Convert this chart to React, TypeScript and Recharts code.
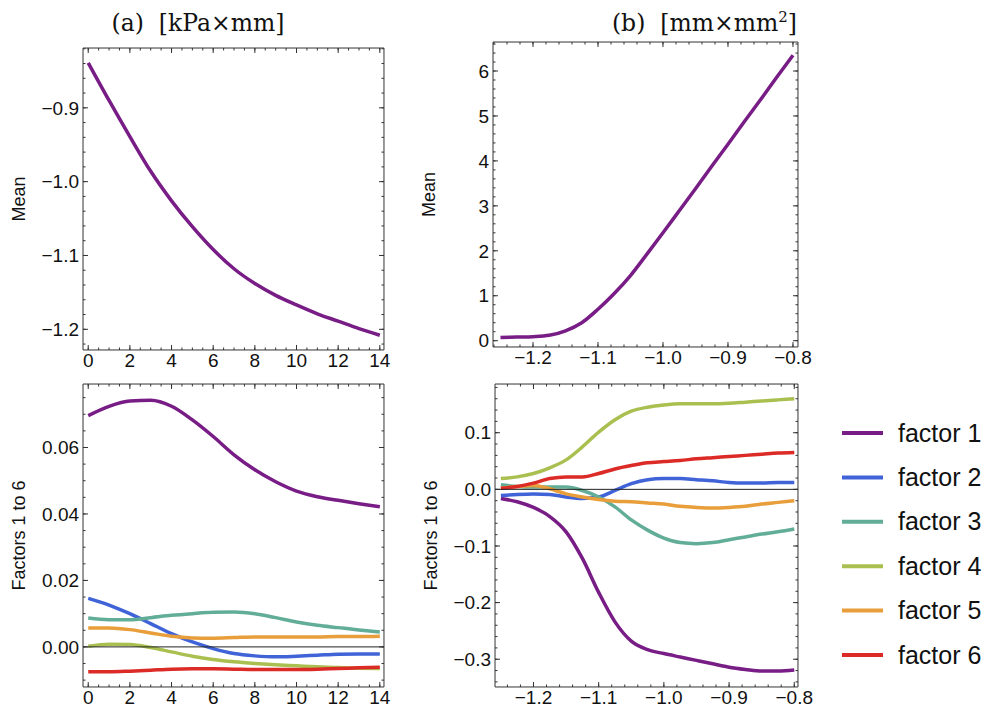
import React from 'react'
import { LineChart, Line, XAxis, YAxis, ReferenceLine } from 'recharts'

// panel (a): x runs 0..14
const tA = [0, 1, 2, 3, 4, 5, 6, 7, 8, 9, 10, 11, 12, 13, 14]
const meanA = [-0.839, -0.89, -0.939, -0.986, -1.026, -1.061, -1.092, -1.118, -1.138, -1.154, -1.167, -1.179, -1.189, -1.199, -1.208]
const aF1 = [0.0696, 0.0724, 0.074, 0.0742, 0.0724, 0.0683, 0.0633, 0.0578, 0.0533, 0.0497, 0.0469, 0.0452, 0.0441, 0.0431, 0.0422]
const aF2 = [0.0146, 0.0126, 0.01, 0.007, 0.004, 0.0015, -0.0005, -0.002, -0.0027, -0.003, -0.0028, -0.0025, -0.0022, -0.0021, -0.0021]
const aF3 = [0.0087, 0.0082, 0.0082, 0.0088, 0.0095, 0.01, 0.0104, 0.0105, 0.01, 0.0088, 0.0075, 0.0065, 0.0058, 0.0051, 0.0045]
const aF4 = [0.0002, 0.0008, 0.0007, -0.0002, -0.0015, -0.0028, -0.0038, -0.0045, -0.005, -0.0054, -0.0057, -0.006, -0.0062, -0.0064, -0.0065]
const aF5 = [0.0057, 0.0057, 0.0052, 0.0042, 0.0032, 0.0027, 0.0026, 0.0028, 0.003, 0.003, 0.003, 0.003, 0.0031, 0.0031, 0.0032]
const aF6 = [-0.0075, -0.0075, -0.0073, -0.007, -0.0067, -0.0066, -0.0066, -0.0067, -0.0068, -0.0068, -0.0068, -0.0067, -0.0065, -0.0063, -0.0061]

// panel (b): x runs -1.25..-0.8
const xB = [-1.25, -1.225, -1.2, -1.175, -1.15, -1.125, -1.1, -1.075, -1.05, -1.025, -1.0, -0.975, -0.95, -0.925, -0.9, -0.875, -0.85, -0.825, -0.8]
const meanB = [0.07, 0.08, 0.09, 0.12, 0.22, 0.4, 0.7, 1.05, 1.45, 1.92, 2.4, 2.89, 3.38, 3.88, 4.37, 4.87, 5.36, 5.86, 6.35]
const bF1 = [-0.016, -0.022, -0.032, -0.048, -0.075, -0.122, -0.182, -0.234, -0.268, -0.283, -0.29, -0.296, -0.302, -0.308, -0.314, -0.318, -0.321, -0.321, -0.319]
const bF2 = [-0.011, -0.009, -0.008, -0.009, -0.0135, -0.016, -0.0135, -0.002, 0.01, 0.017, 0.019, 0.019, 0.017, 0.015, 0.012, 0.011, 0.011, 0.012, 0.012]
const bF3 = [0.008, 0.005, 0.004, 0.004, 0.004, -0.002, -0.0135, -0.031, -0.054, -0.072, -0.086, -0.094, -0.096, -0.094, -0.089, -0.084, -0.079, -0.075, -0.07]
const bF4 = [0.019, 0.022, 0.028, 0.038, 0.052, 0.075, 0.101, 0.123, 0.138, 0.145, 0.149, 0.151, 0.151, 0.151, 0.152, 0.154, 0.156, 0.158, 0.16]
const bF5 = [0.002, 0.005, 0.007, 0.001, -0.008, -0.0135, -0.018, -0.021, -0.022, -0.024, -0.026, -0.03, -0.032, -0.033, -0.032, -0.03, -0.026, -0.023, -0.02]
const bF6 = [0.002, 0.005, 0.011, 0.019, 0.022, 0.022, 0.028, 0.036, 0.042, 0.047, 0.049, 0.051, 0.054, 0.056, 0.058, 0.06, 0.062, 0.064, 0.065]

const factorNames = ['factor 1', 'factor 2', 'factor 3', 'factor 4', 'factor 5', 'factor 6']
const factorKeys = ['f1', 'f2', 'f3', 'f4', 'f5', 'f6']
const factorColors = ['#781c86', '#4063d8', '#62ad97', '#a9c050', '#e89e3a', '#dc2a27']

// tick labels
const xTicksA = [0, 2, 4, 6, 8, 10, 12, 14]
const xTicksB = [-1.2, -1.1, -1.0, -0.9, -0.8]
const yTicksMeanA = [-1.2, -1.1, -1.0, -0.9]
const yTicksMeanB = [0, 1, 2, 3, 4, 5, 6]
const yTicksFacA = [0, 0.02, 0.04, 0.06]
const yTicksFacB = [-0.3, -0.2, -0.1, 0, 0.1]

const FRAME = '#333'
const SANS = '"Liberation Sans", Arial, sans-serif'
const SERIF = '"DejaVu Serif", "Liberation Serif", serif'
// axes take (almost) no room, the chart margins place the frame
const AX = 0.01

const steps = (from: number, to: number, step: number, domain: number[]) => {
  const out: number[] = []
  const n = Math.round((to - from) / step)
  for (let i = 0; i <= n; i++) {
    const v = Math.round((from + i * step) * 1e6) / 1e6
    if (v >= domain[0] && v <= domain[1]) out.push(v)
  }
  return out
}

const fmt = (d: number) => (v: number) => {
  const s = Math.abs(v).toFixed(d)
  return v < -1e-9 ? '\u2212' + s : s
}

const dataMeanA = tA.map((x, i) => ({ x, m: meanA[i] }))
const dataMeanB = xB.map((x, i) => ({ x, m: meanB[i] }))
const dataFacA = tA.map((x, i) => ({ x, f1: aF1[i], f2: aF2[i], f3: aF3[i], f4: aF4[i], f5: aF5[i], f6: aF6[i] }))
const dataFacB = xB.map((x, i) => ({ x, f1: bF1[i], f2: bF2[i], f3: bF3[i], f4: bF4[i], f5: bF5[i], f6: bF6[i] }))

const tickText = (digits: number) => (props: any) => {
  const dy = props.verticalAnchor === 'start' ? '0.71em' : '0.355em'
  return (
    <text x={props.x} y={props.y} dy={dy} textAnchor={props.textAnchor} fontSize={19} fontFamily={SANS} fill="#111">
      {fmt(digits)(props.payload.value)}
    </text>
  )
}

const yLabel = (text: string) => (props: any) => {
  const vb = props.viewBox || {}
  const cx = vb.x - 58
  const cy = vb.y + vb.height / 2
  return (
    <text
      transform={`translate(${cx},${cy}) rotate(-90)`}
      textAnchor="middle"
      fontSize={18}
      fontFamily={SANS}
      fill="#111"
    >
      {text}
    </text>
  )
}

type PanelProps = {
  left: number
  top: number
  width: number
  height: number
  margin: { top: number; right: number; bottom: number; left: number }
  data: any[]
  keys: string[]
  colors: string[]
  xDomain: number[]
  yDomain: number[]
  xTicks: number[]
  yTicks: number[]
  xMinor: number[]
  yMinor: number[]
  xDigits: number
  yDigits: number
  label: string
  zero?: boolean
}

const Panel = (p: PanelProps) => {
  const none = () => ''
  return (
    <div style={{ position: 'absolute', left: p.left, top: p.top }}>
      <LineChart width={p.width} height={p.height} data={p.data} margin={p.margin}>
        <XAxis xAxisId="bm" type="number" dataKey="x" domain={p.xDomain} allowDataOverflow ticks={p.xMinor} interval={0}
          height={AX} tickSize={-2.5} axisLine={false} tickLine={{ stroke: FRAME }} tickFormatter={none} />
        <XAxis xAxisId="tm" orientation="top" type="number" dataKey="x" domain={p.xDomain} allowDataOverflow ticks={p.xMinor} interval={0}
          height={AX} tickSize={-2.5} axisLine={false} tickLine={{ stroke: FRAME }} tickFormatter={none} />
        <XAxis xAxisId="t" orientation="top" type="number" dataKey="x" domain={p.xDomain} allowDataOverflow ticks={p.xTicks} interval={0}
          height={AX} tickSize={-5} axisLine={{ stroke: FRAME }} tickLine={{ stroke: FRAME }} tickFormatter={none} />
        <XAxis xAxisId="b" type="number" dataKey="x" domain={p.xDomain} allowDataOverflow ticks={p.xTicks} interval={0}
          height={AX} tickSize={-5} tickMargin={9} axisLine={{ stroke: FRAME }} tickLine={{ stroke: FRAME }}
          tick={tickText(p.xDigits)} />
        <YAxis yAxisId="lm" type="number" domain={p.yDomain} allowDataOverflow ticks={p.yMinor} interval={0}
          width={AX} tickSize={-2.5} axisLine={false} tickLine={{ stroke: FRAME }} tickFormatter={none} />
        <YAxis yAxisId="rm" orientation="right" type="number" domain={p.yDomain} allowDataOverflow ticks={p.yMinor} interval={0}
          width={AX} tickSize={-2.5} axisLine={false} tickLine={{ stroke: FRAME }} tickFormatter={none} />
        <YAxis yAxisId="r" orientation="right" type="number" domain={p.yDomain} allowDataOverflow ticks={p.yTicks} interval={0}
          width={AX} tickSize={-5} axisLine={{ stroke: FRAME }} tickLine={{ stroke: FRAME }} tickFormatter={none} />
        <YAxis yAxisId="l" type="number" domain={p.yDomain} allowDataOverflow ticks={p.yTicks} interval={0}
          width={AX} tickSize={-5} tickMargin={9} axisLine={{ stroke: FRAME }} tickLine={{ stroke: FRAME }}
          tick={tickText(p.yDigits)} label={yLabel(p.label)} />
        {p.keys.map((k, i) => (
          <Line key={k} xAxisId="b" yAxisId="l" type="monotone" dataKey={k} stroke={p.colors[i]}
            strokeWidth={3.5} dot={false} isAnimationActive={false} />
        ))}
        {p.zero && <ReferenceLine xAxisId="b" yAxisId="l" y={0} stroke="#222" strokeWidth={1} />}
      </LineChart>
    </div>
  )
}

const domAx = [-0.25, 14.2]
const domBxTop = [-1.2615, -0.7923]
const domBxBot = [-1.259, -0.7943]
const domMeanA = [-1.228, -0.819]
const domMeanB = [-0.14, 6.645]
const domFacA = [-0.01206, 0.0791]
const domFacB = [-0.349, 0.186]

const App = () => {
  return (
    <div style={{ position: 'absolute', left: 0, top: 0, width: 992, height: 715, background: '#fff' }}>
      <svg width={992} height={40} style={{ position: 'absolute', left: 0, top: 0 }}>
        <text x={198} y={31} textAnchor="middle" fontFamily={SERIF} fontSize={23.5} fill="#111">
          (a){'\u00a0\u00a0'}[kPa×mm]
        </text>
        <text x={797} y={31} textAnchor="end" fontFamily={SERIF} fontSize={23.5} fill="#111">
          (b){'\u00a0\u00a0'}[mm×mm<tspan dy={-9} fontSize={15}>2</tspan><tspan dy={9}>]</tspan>
        </text>
      </svg>
      <Panel left={0} top={0} width={400} height={380}
        margin={{ top: 48, right: 16, bottom: 30, left: 83 }}
        data={dataMeanA} keys={['m']} colors={[factorColors[0]]}
        xDomain={domAx} yDomain={domMeanA} xTicks={xTicksA} yTicks={yTicksMeanA}
        xMinor={steps(0, 14, 0.5, domAx)} yMinor={steps(-1.24, -0.8, 0.02, domMeanA)}
        xDigits={0} yDigits={1} label="Mean" />
      <Panel left={400} top={0} width={420} height={380}
        margin={{ top: 42, right: 22, bottom: 33, left: 93 }}
        data={dataMeanB} keys={['m']} colors={[factorColors[0]]}
        xDomain={domBxTop} yDomain={domMeanB} xTicks={xTicksB} yTicks={yTicksMeanB}
        xMinor={steps(-1.28, -0.78, 0.02, domBxTop)} yMinor={steps(0, 6.6, 0.2, domMeanB)}
        xDigits={1} yDigits={0} label="Mean" />
      <Panel left={0} top={370} width={400} height={345}
        margin={{ top: 14, right: 16, bottom: 28, left: 83 }}
        data={dataFacA} keys={factorKeys} colors={factorColors}
        xDomain={domAx} yDomain={domFacA} xTicks={xTicksA} yTicks={yTicksFacA}
        xMinor={steps(0, 14, 0.5, domAx)} yMinor={steps(-0.015, 0.08, 0.005, domFacA)}
        xDigits={0} yDigits={2} label="Factors 1 to 6" zero />
      <Panel left={400} top={370} width={420} height={345}
        margin={{ top: 14, right: 22, bottom: 28, left: 95 }}
        data={dataFacB} keys={factorKeys} colors={factorColors}
        xDomain={domBxBot} yDomain={domFacB} xTicks={xTicksB} yTicks={yTicksFacB}
        xMinor={steps(-1.28, -0.78, 0.02, domBxBot)} yMinor={steps(-0.36, 0.2, 0.02, domFacB)}
        xDigits={1} yDigits={1} label="Factors 1 to 6" zero />
      <svg width={162} height={280} style={{ position: 'absolute', left: 830, top: 400 }}>
        {factorNames.map((name, i) => (
          <g key={name}>
            <line x1={12} x2={53} y1={33 + i * 44.4} y2={33 + i * 44.4} stroke={factorColors[i]} strokeWidth={4} />
            <text x={68} y={33 + i * 44.4 + 8.5} fontFamily={SANS} fontSize={25} fill="#111">{name}</text>
          </g>
        ))}
      </svg>
    </div>
  )
}

export default App
